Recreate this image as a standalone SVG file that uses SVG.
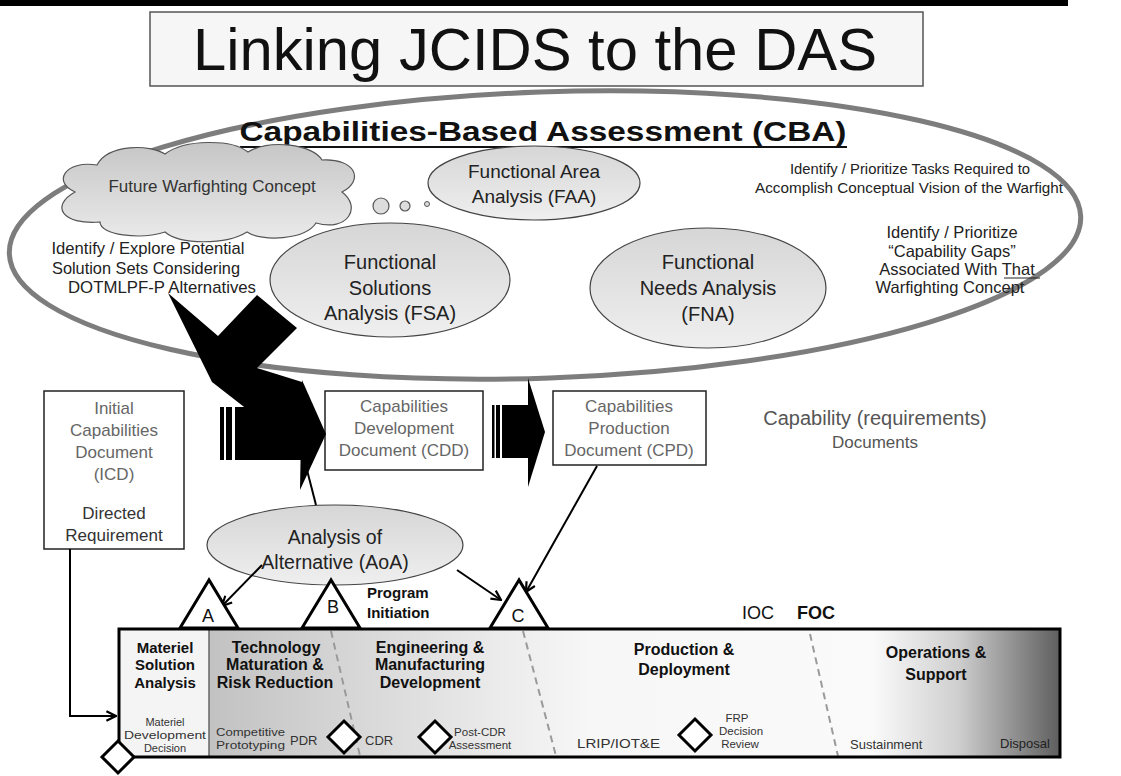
<svg xmlns="http://www.w3.org/2000/svg" width="1121" height="776" viewBox="0 0 1121 776">
<defs>
<style>
text{font-family:"Liberation Sans",Arial,sans-serif;fill:#222}
.t{text-anchor:middle}
.g{fill:#666}
.b{font-weight:bold;fill:#111}
.s{fill:#333}
.el{fill:url(#eg);stroke:#444;stroke-width:1.2}
.box{fill:#fff;stroke:#222;stroke-width:1.5}
.ln{stroke:#000;stroke-width:2;fill:none}
.tri{fill:#fff;stroke:#000;stroke-width:3;stroke-linejoin:miter}
.dia{fill:#fff;stroke:#000;stroke-width:3}
.dash{stroke:#9a9a9a;stroke-width:2;stroke-dasharray:7 5;fill:none}
.blk{fill:#000}
</style>
<linearGradient id="eg" x1="0" y1="0" x2="0" y2="1"><stop offset="0" stop-color="#d6d6d6"/><stop offset="1" stop-color="#efefef"/></linearGradient>
<linearGradient id="cg" x1="0" y1="0" x2="0" y2="1"><stop offset="0" stop-color="#c6c6c6"/><stop offset="1" stop-color="#ebebeb"/></linearGradient>
<linearGradient id="bg" x1="209" y1="0" x2="1060" y2="0" gradientUnits="userSpaceOnUse">
<stop offset="0" stop-color="#c2c2c2"/><stop offset="0.34" stop-color="#ebebeb"/><stop offset="0.45" stop-color="#f7f7f7"/><stop offset="0.78" stop-color="#fafafa"/><stop offset="0.88" stop-color="#cfcfcf"/><stop offset="1" stop-color="#5e5e5e"/>
</linearGradient>
<marker id="ah" viewBox="0 0 10 10" refX="9" refY="5" markerWidth="6" markerHeight="6" orient="auto" markerUnits="strokeWidth"><path d="M1,1 L9,5 L1,9" fill="none" stroke="#000" stroke-width="1.8"/></marker>
</defs>
<rect width="1121" height="776" fill="#fff"/>
<rect x="0" y="0" width="1068" height="6" fill="#000"/>
<g id="title">
<rect x="150" y="12" width="773" height="74" fill="#f6f6f6" stroke="#555" stroke-width="1.5"/>
<text x="193" y="70" font-size="60" textLength="684" lengthAdjust="spacingAndGlyphs" style="fill:#111">Linking JCIDS to the DAS</text>
</g>
<g id="cba">
<ellipse cx="545" cy="235" rx="536" ry="143" transform="rotate(-2 545 235)" fill="none" stroke="#7d7d7d" stroke-width="5"/>
<text class="t b" x="543" y="141" font-size="27" textLength="607" lengthAdjust="spacingAndGlyphs">Capabilities-Based Assessment (CBA)</text>
<line x1="240" y1="147" x2="847" y2="147" stroke="#111" stroke-width="2"/>
</g>
<g id="cloud">
<path d="M75,192 C52,182 65,160 97,165 C108,144 150,144 165,154 C185,139 232,139 248,152 C270,139 312,144 322,160 C355,158 365,180 342,192 C362,207 348,232 316,223 C305,240 262,242 247,232 C226,245 180,245 165,232 C140,240 100,235 100,222 C62,225 50,206 75,192 Z" fill="url(#cg)" stroke="#555" stroke-width="1.2"/>
<text class="t" x="212" y="192" font-size="17" style="fill:#333">Future Warfighting Concept</text>
<circle cx="381" cy="206" r="8" fill="#ddd" stroke="#555" stroke-width="1.2"/>
<circle cx="405" cy="206" r="5" fill="#ddd" stroke="#555" stroke-width="1.2"/>
<circle cx="427" cy="204" r="2.5" fill="#ddd" stroke="#555" stroke-width="1"/>
</g>
<g id="faa">
<ellipse class="el" cx="534" cy="183" rx="106" ry="37"/>
<text class="t" x="534" y="178" font-size="19">Functional Area</text>
<text class="t" x="534" y="203" font-size="19">Analysis (FAA)</text>
</g>
<g id="faa-note">
<text class="t" x="910" y="174" font-size="15.5" textLength="240" lengthAdjust="spacingAndGlyphs">Identify  /  Prioritize Tasks Required to</text>
<text class="t" x="909" y="193" font-size="15.5" textLength="308" lengthAdjust="spacingAndGlyphs">Accomplish Conceptual Vision of the Warfight</text>
</g>
<g id="fsa-note">
<text class="t" x="148" y="254" font-size="17" textLength="193" lengthAdjust="spacingAndGlyphs">Identify  / Explore Potential</text>
<text class="t" x="146" y="274" font-size="17" textLength="188" lengthAdjust="spacingAndGlyphs">Solution Sets Considering</text>
<text class="t" x="162" y="293" font-size="17" textLength="188" lengthAdjust="spacingAndGlyphs">DOTMLPF-P Alternatives</text>
</g>
<g id="fsa">
<ellipse class="el" cx="390" cy="280" rx="120" ry="57"/>
<text class="t" x="390" y="269" font-size="20">Functional</text>
<text class="t" x="390" y="295" font-size="20">Solutions</text>
<text class="t" x="390" y="320" font-size="20">Analysis (FSA)</text>
</g>
<g id="fna">
<ellipse class="el" cx="708" cy="288" rx="118" ry="60"/>
<text class="t" x="708" y="269" font-size="20">Functional</text>
<text class="t" x="708" y="295" font-size="20">Needs Analysis</text>
<text class="t" x="708" y="321" font-size="20">(FNA)</text>
</g>
<g id="fna-note">
<text class="t" x="952" y="238" font-size="16.5">Identify  /  Prioritize</text>
<text class="t" x="952" y="257" font-size="16.5">“Capability Gaps”</text>
<text class="t" x="957" y="275" font-size="16.5">Associated With That</text>
<line x1="1004" y1="278" x2="1040" y2="278" stroke="#222" stroke-width="1"/>
<text class="t" x="950" y="293" font-size="16.5">Warfighting  Concept</text>
</g>
<g id="icd">
<rect class="box" x="44" y="391" width="140" height="158"/>
<text class="t g" x="114" y="414" font-size="17">Initial</text>
<text class="t g" x="114" y="436" font-size="17">Capabilities</text>
<text class="t g" x="114" y="458" font-size="17">Document</text>
<text class="t g" x="114" y="480" font-size="17">(ICD)</text>
<text class="t s" x="114" y="519" font-size="17">Directed</text>
<text class="t s" x="114" y="541" font-size="17">Requirement</text>
</g>
<g id="cdd">
<rect class="box" x="325" y="391" width="158" height="79"/>
<text class="t g" x="404" y="412" font-size="17">Capabilities</text>
<text class="t g" x="404" y="434" font-size="17">Development</text>
<text class="t g" x="404" y="456" font-size="17">Document (CDD)</text>
</g>
<g id="cpd">
<rect class="box" x="553" y="391" width="153" height="74"/>
<text class="t g" x="629" y="412" font-size="17">Capabilities</text>
<text class="t g" x="629" y="434" font-size="17">Production</text>
<text class="t g" x="629" y="456" font-size="17">Document (CPD)</text>
</g>
<g id="docs-label">
<text class="t" x="875" y="425" font-size="20" style="fill:#555">Capability (requirements)</text>
<text class="t" x="875" y="448" font-size="17" style="fill:#555">Documents</text>
</g>
<g id="aoa">
<ellipse class="el" cx="335" cy="545" rx="128" ry="40"/>
<text class="t" x="335" y="544" font-size="19.5">Analysis of</text>
<text class="t" x="335" y="569" font-size="19.5">Alternative (AoA)</text>
</g>
<g id="connectors">
<path class="blk" d="M168,293 L218,336 L257,295 L297,328 L257,368 L302,382 L302,410 L248,410 L212,382 Z"/>
<rect class="blk" x="220" y="407" width="4" height="53"/>
<rect class="blk" x="226" y="407" width="6" height="53"/>
<rect class="blk" x="235" y="407" width="68" height="53"/>
<path class="blk" d="M302,380 L326,434 L300,490 Z"/>
<line class="ln" x1="307" y1="470" x2="316" y2="505"/>
<rect class="blk" x="492" y="405" width="2.5" height="53"/>
<rect class="blk" x="496" y="405" width="4" height="53"/>
<rect class="blk" x="502" y="405" width="27" height="53"/>
<path class="blk" d="M528,378 L545,432 L528,487 Z"/>
<line class="ln" x1="262" y1="565" x2="222" y2="606" marker-end="url(#ah)"/>
<line class="ln" x1="329" y1="585" x2="331" y2="601" marker-end="url(#ah)"/>
<line class="ln" x1="457" y1="570" x2="501" y2="600" marker-end="url(#ah)"/>
<line class="ln" x1="597" y1="466" x2="526" y2="592" marker-end="url(#ah)"/>
<path class="ln" d="M70,549 L70,716 L116,716" marker-end="url(#ah)"/>
</g>
<g id="milestones">
<path class="tri" d="M209,580 L180,628 L238,628 Z"/>
<text class="t" x="208" y="622" font-size="18" style="fill:#111">A</text>
<path class="tri" d="M331,580 L302,628 L360,628 Z"/>
<text class="t" x="333" y="613" font-size="18" style="fill:#111">B</text>
<path class="tri" d="M519,580 L490,628 L548,628 Z"/>
<text class="t" x="518" y="622" font-size="18" style="fill:#111">C</text>
<text class="b" x="367" y="598" font-size="15">Program</text>
<text class="b" x="367" y="618" font-size="15">Initiation</text>
<text x="742" y="619" font-size="18" style="fill:#111">IOC</text>
<text x="797" y="619" font-size="18" font-weight="bold" style="fill:#111">FOC</text>
</g>
<g id="lifecycle">
<rect x="119" y="629" width="90" height="128" fill="#f4f4f4"/>
<rect x="209" y="629" width="851" height="128" fill="url(#bg)"/>
<line x1="209" y1="629" x2="209" y2="757" stroke="#666" stroke-width="1.5"/>
<line class="dash" x1="331" y1="631" x2="360" y2="756"/>
<line class="dash" x1="523" y1="631" x2="556" y2="756"/>
<line class="dash" x1="810" y1="634" x2="838" y2="756"/>
<rect x="119" y="629" width="941" height="128" fill="none" stroke="#000" stroke-width="3"/>
<text class="t b" x="165" y="653" font-size="15">Materiel</text>
<text class="t b" x="165" y="670" font-size="15">Solution</text>
<text class="t b" x="165" y="688" font-size="15">Analysis</text>
<text class="t b" x="276" y="653" font-size="16">Technology</text>
<text class="t b" x="275" y="670" font-size="16">Maturation &amp;</text>
<text class="t b" x="275" y="688" font-size="16">Risk Reduction</text>
<text class="t b" x="430" y="653" font-size="16">Engineering &amp;</text>
<text class="t b" x="430" y="670" font-size="16">Manufacturing</text>
<text class="t b" x="430" y="688" font-size="16">Development</text>
<text class="t b" x="684" y="655" font-size="16">Production &amp;</text>
<text class="t b" x="684" y="675" font-size="16">Deployment</text>
<text class="t b" x="936" y="658" font-size="16">Operations &amp;</text>
<text class="t b" x="936" y="680" font-size="16">Support</text>
<text class="t s" x="165" y="726" font-size="11">Materiel</text>
<text class="t s" x="165" y="739" font-size="11" textLength="82" lengthAdjust="spacingAndGlyphs">Development</text>
<text class="t s" x="165" y="752" font-size="11">Decision</text>
<text class="s" x="216" y="735.5" font-size="11" textLength="69" lengthAdjust="spacingAndGlyphs">Competitive</text>
<text class="s" x="216" y="748.5" font-size="11" textLength="69" lengthAdjust="spacingAndGlyphs">Prototyping</text>
<text class="s" x="290" y="745" font-size="13">PDR</text>
<text class="s" x="365" y="745" font-size="13">CDR</text>
<text class="t s" x="480" y="736" font-size="11.5">Post-CDR</text>
<text class="t s" x="480" y="749" font-size="11.5">Assessment</text>
<text class="s" x="577" y="748" font-size="13" textLength="83" lengthAdjust="spacingAndGlyphs">LRIP/IOT&amp;E</text>
<text class="t s" x="737" y="722" font-size="11.5">FRP</text>
<text class="t s" x="741" y="735" font-size="11.5">Decision</text>
<text class="t s" x="740" y="748" font-size="11.5">Review</text>
<text class="s" x="850" y="749" font-size="13">Sustainment</text>
<text x="1000" y="748" font-size="13">Disposal</text>
</g>
<g id="decisions">
<path class="dia" d="M344,721 L360,737 L344,753 L328,737 Z"/>
<path class="dia" d="M435,721 L451,737 L435,753 L419,737 Z"/>
<path class="dia" d="M695,719 L711,735 L695,751 L679,735 Z"/>
<path class="dia" d="M118,741 L134,757 L118,773 L102,757 Z"/>
</g>
</svg>
